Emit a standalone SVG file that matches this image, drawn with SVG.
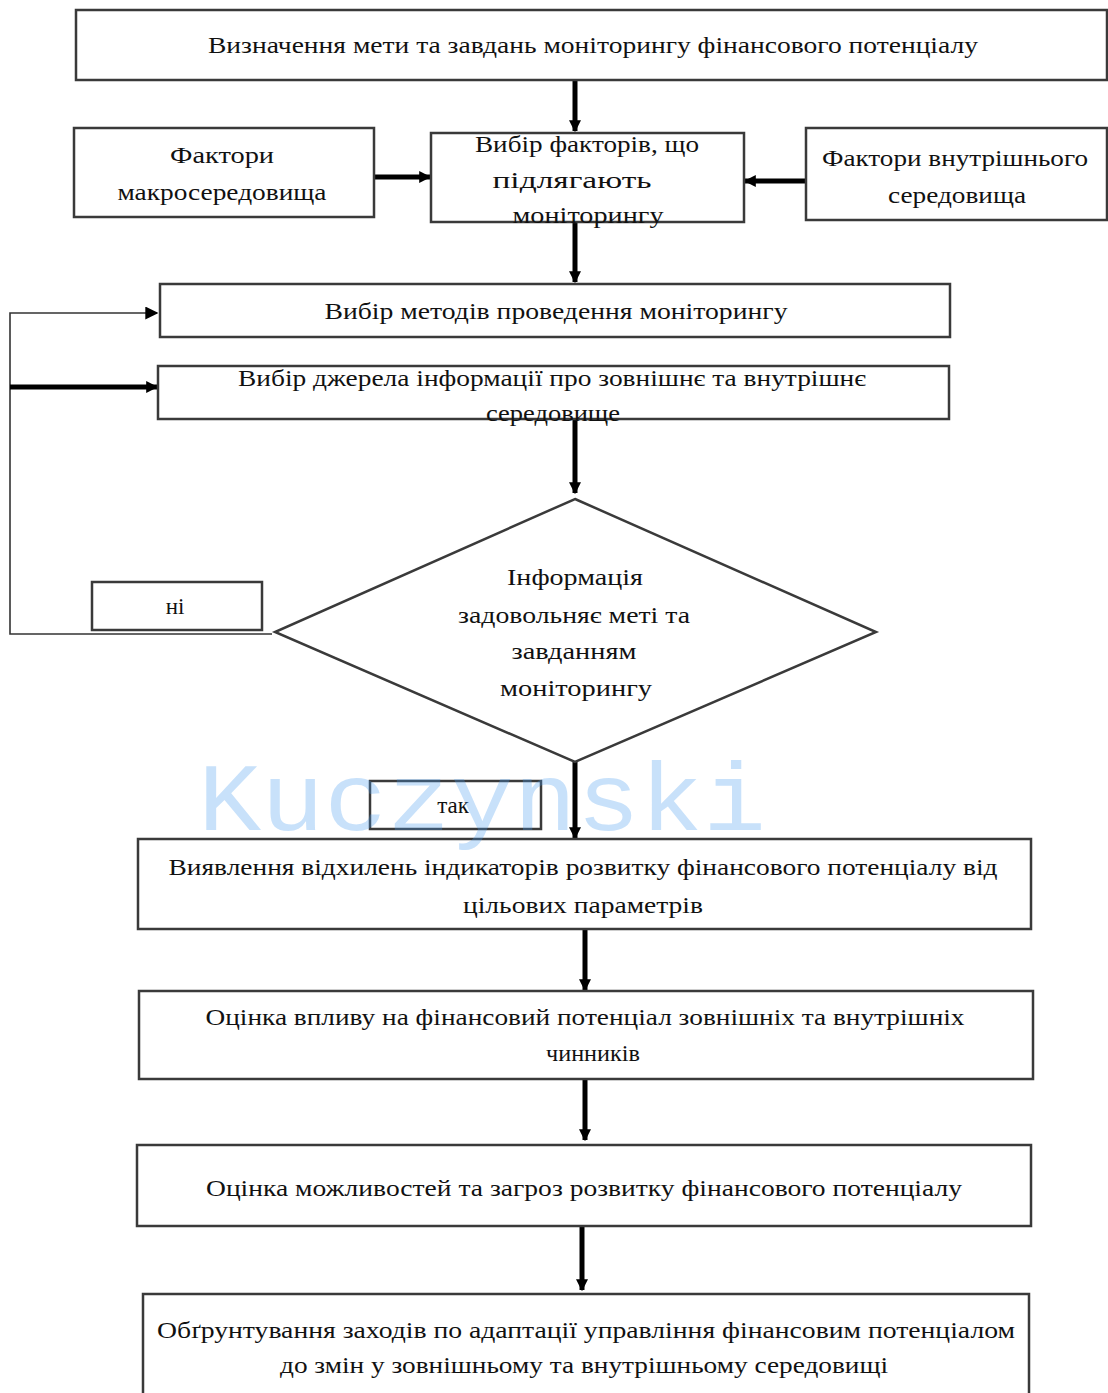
<svg xmlns="http://www.w3.org/2000/svg" width="1108" height="1393" viewBox="0 0 1108 1393">
<defs>
<style>
.box{fill:#fff;stroke:#3a3a3a;stroke-width:2.5}
.t{font-family:"Liberation Serif","Times New Roman",serif;font-size:23px;fill:#111;text-anchor:middle}
.thick{stroke:#000;stroke-width:5;fill:none}
.thin{stroke:#333;stroke-width:1.6;fill:none}
.wm{font-family:"Liberation Mono","Courier New",monospace;font-size:96px;fill:#4a9af0;fill-opacity:0.3}
</style>
<marker id="ah" viewBox="0 0 10 10" refX="9" refY="5" markerWidth="12" markerHeight="12" markerUnits="userSpaceOnUse" orient="auto">
<path d="M0,0 L10,5 L0,10 z" fill="#000"/>
</marker>
<marker id="ahs" viewBox="0 0 10 10" refX="9" refY="5" markerWidth="13" markerHeight="13" markerUnits="userSpaceOnUse" orient="auto">
<path d="M0,0 L10,5 L0,10 z" fill="#000"/>
</marker>
</defs>
<rect width="1108" height="1393" fill="#fff"/>
<g id="connectors">
<line class="thick" x1="575" y1="80" x2="575" y2="131" marker-end="url(#ah)"/>
<line class="thick" x1="374" y1="177" x2="430" y2="177" marker-end="url(#ah)"/>
<line class="thick" x1="806" y1="181" x2="745" y2="181" marker-end="url(#ah)"/>
<line class="thick" x1="575" y1="222" x2="575" y2="282" marker-end="url(#ah)"/>
<line class="thick" x1="575" y1="419" x2="575" y2="493" marker-end="url(#ah)"/>
<polyline class="thin" points="272,634 10,634 10,313 157,313" marker-end="url(#ahs)"/>
<line class="thick" x1="10" y1="387" x2="157" y2="387" marker-end="url(#ah)"/>
<line class="thick" x1="575" y1="762" x2="575" y2="838" marker-end="url(#ah)"/>
<line class="thick" x1="585" y1="929" x2="585" y2="990" marker-end="url(#ah)"/>
<line class="thick" x1="585" y1="1079" x2="585" y2="1140" marker-end="url(#ah)"/>
<line class="thick" x1="582" y1="1227" x2="582" y2="1290" marker-end="url(#ah)"/>
</g>
<g id="n1"><rect class="box" x="76" y="10" width="1031" height="70"/>
<text class="t" x="593" y="53" textLength="770" lengthAdjust="spacingAndGlyphs">Визначення мети та завдань моніторингу фінансового потенціалу</text></g>
<g id="n2"><rect class="box" x="74" y="128" width="300" height="89"/>
<text class="t" x="222" y="163" textLength="104" lengthAdjust="spacingAndGlyphs">Фактори</text>
<text class="t" x="222" y="200" textLength="209" lengthAdjust="spacingAndGlyphs">макросередовища</text></g>
<g id="n3"><rect class="box" x="431" y="133" width="313" height="89"/>
<text class="t" x="587" y="152" textLength="224" lengthAdjust="spacingAndGlyphs">Вибір факторів, що</text>
<text class="t" x="572" y="188" textLength="159" lengthAdjust="spacingAndGlyphs">підлягають</text>
<text class="t" x="588" y="223" textLength="151" lengthAdjust="spacingAndGlyphs">моніторингу</text></g>
<g id="n4"><rect class="box" x="806" y="128" width="301" height="92"/>
<text class="t" x="955" y="166" textLength="266" lengthAdjust="spacingAndGlyphs">Фактори внутрішнього</text>
<text class="t" x="957" y="203" textLength="138" lengthAdjust="spacingAndGlyphs">середовища</text></g>
<g id="n5"><rect class="box" x="160" y="284" width="790" height="53"/>
<text class="t" x="556" y="319" textLength="463" lengthAdjust="spacingAndGlyphs">Вибір методів проведення моніторингу</text></g>
<g id="n6"><rect class="box" x="158" y="366" width="791" height="53"/>
<text class="t" x="552" y="386" textLength="628" lengthAdjust="spacingAndGlyphs">Вибір джерела інформації про зовнішнє та внутрішнє</text>
<text class="t" x="553" y="421" textLength="134" lengthAdjust="spacingAndGlyphs">середовище</text></g>
<g id="n7"><polygon class="box" points="575,499 876,632 575,762 275,632"/>
<text class="t" x="575" y="585" textLength="136" lengthAdjust="spacingAndGlyphs">Інформація</text>
<text class="t" x="574" y="623" textLength="232" lengthAdjust="spacingAndGlyphs">задовольняє меті та</text>
<text class="t" x="574" y="659" textLength="125" lengthAdjust="spacingAndGlyphs">завданням</text>
<text class="t" x="576" y="696" textLength="152" lengthAdjust="spacingAndGlyphs">моніторингу</text></g>
<g id="n8"><rect class="box" x="92" y="582" width="170" height="48"/>
<text class="t" x="175" y="614">ні</text></g>
<g id="n9"><rect class="box" x="370" y="781" width="171" height="48"/>
<text class="t" x="453" y="813">так</text></g>
<g id="n10"><rect class="box" x="138" y="839" width="893" height="90"/>
<text class="t" x="583" y="875" textLength="829" lengthAdjust="spacingAndGlyphs">Виявлення відхилень індикаторів розвитку фінансового потенціалу від</text>
<text class="t" x="583" y="913" textLength="240" lengthAdjust="spacingAndGlyphs">цільових параметрів</text></g>
<g id="n11"><rect class="box" x="139" y="991" width="894" height="88"/>
<text class="t" x="585" y="1025" textLength="759" lengthAdjust="spacingAndGlyphs">Оцінка впливу на фінансовий потенціал зовнішніх та внутрішніх</text>
<text class="t" x="593" y="1061" textLength="94" lengthAdjust="spacingAndGlyphs">чинників</text></g>
<g id="n12"><rect class="box" x="137" y="1145" width="894" height="81"/>
<text class="t" x="584" y="1196" textLength="756" lengthAdjust="spacingAndGlyphs">Оцінка можливостей та загроз розвитку фінансового потенціалу</text></g>
<g id="n13"><rect class="box" x="143" y="1294" width="886" height="110"/>
<text class="t" x="586" y="1338" textLength="858" lengthAdjust="spacingAndGlyphs">Обґрунтування заходів  по адаптації управління фінансовим потенціалом</text>
<text class="t" x="584" y="1373" textLength="608" lengthAdjust="spacingAndGlyphs">до змін у зовнішньому та внутрішньому середовищі</text></g>
<text class="wm" x="198" y="830" textLength="568" lengthAdjust="spacingAndGlyphs">Kuczynski</text>
</svg>
